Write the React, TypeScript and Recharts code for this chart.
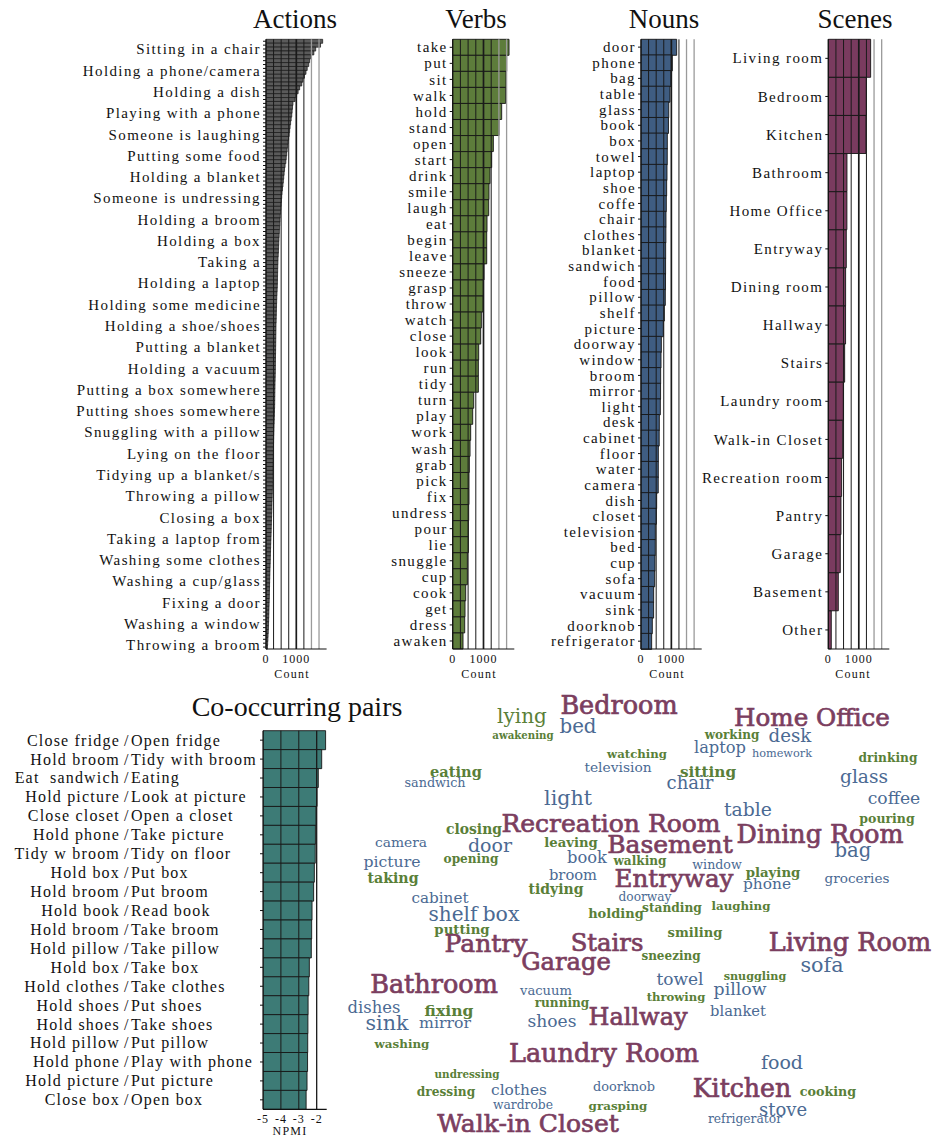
import React from 'react';
import { BarChart, Bar, XAxis, YAxis, ReferenceLine, ScatterChart, Scatter } from 'recharts';

const SERIF = '"Liberation Serif", "Times New Roman", serif';
const CLOUD = '"DejaVu Serif", serif';

// ---------- Actions (157 classes, every ~5th labelled) ----------
const actionCounts = [
  1870, 1800, 1640, 1580, 1480, 1440, 1410, 1360, 1320, 1270,
  1220, 1180, 1110, 1060, 1010, 960, 890, 875, 862, 850,
  830, 812, 795, 780, 765, 745, 728, 712, 698, 683,
  668, 655, 630, 612, 598, 585, 572, 560, 545, 530,
  518, 508, 498, 488, 480, 470, 462, 455, 448, 441,
  434, 427, 421, 416, 410, 404, 397, 393, 389, 385,
  382, 379, 376, 373, 368, 362, 356, 352, 348, 344,
  341, 338, 335, 330, 328, 326, 324, 322, 320, 318,
  316, 314, 312, 310, 309, 307, 304, 301, 298, 296,
  293, 291, 289, 287, 285, 281, 277, 273, 269, 265,
  261, 257, 253, 250, 247, 245, 242, 240, 237, 234,
  232, 230, 226, 222, 218, 214, 210, 206, 202, 198,
  195, 191, 187, 183, 178, 175, 172, 168, 164, 158,
  154, 150, 146, 143, 140, 136, 132, 128, 125, 121,
  118, 115, 112, 110, 106, 102, 99, 95, 92, 88,
  84, 80, 75, 68, 62, 55, 48,
];
const actionLabels = [
  'Sitting in a chair', 'Holding a phone/camera', 'Holding a dish', 'Playing with a phone',
  'Someone is laughing', 'Putting some food', 'Holding a blanket', 'Someone is undressing',
  'Holding a broom', 'Holding a box', 'Taking a', 'Holding a laptop', 'Holding some medicine',
  'Holding a shoe/shoes', 'Putting a blanket', 'Holding a vacuum', 'Putting a box somewhere',
  'Putting shoes somewhere', 'Snuggling with a pillow', 'Lying on the floor',
  'Tidying up a blanket/s', 'Throwing a pillow', 'Closing a box', 'Taking a laptop from',
  'Washing some clothes', 'Washing a cup/glass', 'Fixing a door', 'Washing a window',
  'Throwing a broom',
];

// ---------- Verbs ----------
const verbNames = ['take', 'put', 'sit', 'walk', 'hold', 'stand', 'open', 'start', 'drink', 'smile',
  'laugh', 'eat', 'begin', 'leave', 'sneeze', 'grasp', 'throw', 'watch', 'close', 'look', 'run',
  'tidy', 'turn', 'play', 'work', 'wash', 'grab', 'pick', 'fix', 'undress', 'pour', 'lie',
  'snuggle', 'cup', 'cook', 'get', 'dress', 'awaken'];
const verbCounts = [1829, 1753, 1731, 1720, 1590, 1504, 1320, 1266, 1212, 1179,
  1169, 1114, 1104, 1104, 1017, 995, 990, 930, 909, 844, 833,
  833, 682, 649, 584, 563, 541, 530, 530, 519, 509, 509,
  476, 476, 422, 400, 390, 335];

// ---------- Nouns ----------
const nounNames = ['door', 'phone', 'bag', 'table', 'glass', 'book', 'box', 'towel', 'laptop', 'shoe',
  'coffe', 'chair', 'clothes', 'blanket', 'sandwich', 'food', 'pillow', 'shelf', 'picture',
  'doorway', 'window', 'broom', 'mirror', 'light', 'desk', 'cabinet', 'floor', 'water', 'camera',
  'dish', 'closet', 'television', 'bed', 'cup', 'sofa', 'vacuum', 'sink', 'doorknob', 'refrigerator'];
const nounCounts = [1175, 1032, 988, 955, 915, 905, 867, 865, 856, 845,
  834, 823, 820, 812, 810, 808, 801, 769, 736,
  670, 659, 648, 645, 637, 604, 600, 571, 570, 568,
  516, 505, 472, 470, 461, 450, 417, 415, 373, 351];

// ---------- Scenes ----------
const sceneNames = ['Living room', 'Bedroom', 'Kitchen', 'Bathroom', 'Home Office', 'Entryway',
  'Dining room', 'Hallway', 'Stairs', 'Laundry room', 'Walk-in Closet', 'Recreation room',
  'Pantry', 'Garage', 'Basement', 'Other'];
const sceneCounts = [1388, 1246, 1235, 612, 610, 590, 568, 566, 536, 492, 470, 437, 415, 393, 328, 98];

// ---------- Co-occurring pairs ----------
const pairLabels = ['Close fridge/Open fridge', 'Hold broom/Tidy with broom', 'Eat  sandwich/Eating',
  'Hold picture/Look at picture', 'Close closet/Open a closet', 'Hold phone/Take picture',
  'Tidy w broom/Tidy on floor', 'Hold box/Put box', 'Hold broom/Put broom', 'Hold book/Read book',
  'Hold broom/Take broom', 'Hold pillow/Take pillow', 'Hold box/Take box',
  'Hold clothes/Take clothes', 'Hold shoes/Put shoes', 'Hold shoes/Take shoes',
  'Hold pillow/Put pillow', 'Hold phone/Play with phone', 'Hold picture/Put picture',
  'Close box/Open box'];
const pairNpmi = [-1.5, -1.72, -1.91, -1.98, -2.04, -2.07, -2.08, -2.13, -2.17, -2.26,
  -2.28, -2.3, -2.41, -2.44, -2.48, -2.49, -2.5, -2.51, -2.54, -2.59];
const npmiTicks = [-5, -4, -3, -2];

// ---------- Word cloud: [word, x, y(baseline), weight] in page units ----------
const sceneWords: [string, number, number, number][] = [
  ['Bedroom', 619, 714, 25.5], ['Home Office', 812, 726, 24.6], ['Recreation Room', 611, 832, 25],
  ['Basement', 670, 853, 25], ['Entryway', 674, 887, 24.6], ['Dining Room', 820, 843, 25.3],
  ['Pantry', 486, 952, 25], ['Stairs', 607, 951, 24.3], ['Living Room', 850, 951, 25.5],
  ['Garage', 566, 970, 24.2], ['Bathroom', 434, 993, 25.5], ['Hallway', 638, 1025, 24],
  ['Laundry Room', 604, 1062, 25.5], ['Kitchen', 742, 1097, 25.2], ['Walk-in Closet', 528, 1132, 25],
];
const nounWords: [string, number, number, number][] = [
  ['bed', 578, 733, 19.8], ['television', 618, 772, 13.8], ['sandwich', 435, 787, 12.8],
  ['light', 568, 805, 20.6], ['door', 490, 852, 19], ['camera', 401, 847, 13.8],
  ['picture', 392, 867, 15.7], ['book', 587, 863, 16.3], ['broom', 573, 880, 14.7],
  ['cabinet', 440, 903, 15.2], ['doorway', 645, 901, 12.2], ['shelf', 453, 921, 20],
  ['box', 501, 921, 20.5], ['sofa', 822, 972, 20.7], ['towel', 680, 985, 17],
  ['vacuum', 546, 995, 13.1], ['pillow', 740, 995, 17.3], ['dishes', 374, 1013, 16.4],
  ['blanket', 738, 1016, 14.7], ['sink', 387, 1030, 20.6], ['mirror', 445, 1028, 15.7],
  ['shoes', 552, 1027, 17.1], ['food', 782, 1069, 19], ['clothes', 519, 1095, 15.4],
  ['doorknob', 624, 1091, 12.9], ['wardrobe', 523, 1109, 12.3], ['stove', 783, 1116, 18],
  ['refrigerator', 745, 1123, 12.3], ['desk', 790, 742, 18.2], ['laptop', 720, 753, 16.3],
  ['homework', 782, 757, 11.3], ['chair', 690, 789, 18], ['glass', 864, 783, 18.6],
  ['coffee', 894, 804, 17.2], ['table', 748, 816, 18.8], ['bag', 853, 857, 19.7],
  ['window', 717, 869, 12.6], ['phone', 767, 889, 15.4], ['groceries', 857, 883, 13.6],
];
const verbWords: [string, number, number, number][] = [
  ['lying', 522, 723, 20], ['awakening', 523, 739, 10.2], ['watching', 637, 758, 11.7],
  ['eating', 456, 777, 14.6], ['closing', 474, 834, 13.9], ['leaving', 571, 847, 13.2],
  ['opening', 471, 863, 12.1], ['walking', 640, 865, 12.1], ['taking', 393, 883, 14.2],
  ['tidying', 556, 894, 14], ['holding', 616, 918, 13], ['standing', 672, 912, 12.2],
  ['laughing', 741, 910, 11.8], ['putting', 462, 934, 13.3], ['smiling', 695, 937, 13.1],
  ['sneezing', 671, 960, 12], ['snuggling', 755, 980, 11.2], ['throwing', 676, 1001, 11.6],
  ['running', 562, 1007, 12.1], ['fixing', 449, 1016, 15.6], ['washing', 402, 1048, 11.9],
  ['undressing', 467, 1078, 10.4], ['cooking', 828, 1096, 12.7], ['dressing', 446, 1096, 12.2],
  ['grasping', 618, 1110, 11.9], ['working', 732, 739, 12], ['drinking', 888, 762, 12.2],
  ['sitting', 708, 777, 15.3], ['pouring', 887, 823, 12.5], ['playing', 773, 877, 13.3],
];

// ---------- derived tables ----------
const ACTION_BAR_H = 609.7 / actionCounts.length;
const actionRows = actionCounts.map((count, i) => ({ name: `a${i}`, count }));
const actionLabelById: Record<string, string> = {};
const actionDyById: Record<string, number> = {};
actionLabels.forEach((l, i) => {
  const exact = 2.07 + 5.48 * i;
  const k = Math.round(exact);
  actionLabelById[`a${k}`] = l;
  actionDyById[`a${k}`] = (exact - k) * ACTION_BAR_H;
});
const verbRows = verbNames.map((name, i) => ({ name, count: verbCounts[i] }));
const nounRows = nounNames.map((name, i) => ({ name, count: nounCounts[i] }));
const sceneRows = sceneNames.map((name, i) => ({ name, count: sceneCounts[i] }));
const pairRows = pairLabels.map((name, i) => ({ name, npmi: pairNpmi[i] }));

const COLORS = {
  scene: '#7b3e5f',
  noun: '#4b6a93',
  verb: '#5a7f38',
};
const cloudWords = [
  ...sceneWords.map(([word, x, y, size]) => ({ word, x, y, size, kind: 'scene' })),
  ...nounWords.map(([word, x, y, size]) => ({ word, x, y, size, kind: 'noun' })),
  ...verbWords.map(([word, x, y, size]) => ({ word, x, y, size, kind: 'verb' })),
];

const COUNT_GRID = [250, 500, 750, 1000, 1250, 1500, 1750];
const gridStyle = (v: number) =>
  v === 1000
    ? { stroke: '#1a1a1a', strokeWidth: 1.7 }
    : v >= 1500
      ? { stroke: '#9a9a9a', strokeWidth: 1.3 }
      : { stroke: '#1a1a1a', strokeWidth: 1 };

const XTick = (props: any) => {
  const { x, y, payload } = props;
  return (
    <text x={x} y={y + 14} textAnchor="middle" fontFamily={SERIF} fontSize={12}
      letterSpacing={1} fill="#111">
      {payload.value}
    </text>
  );
};

const makeCatTick = (labelFor: (v: string) => string, dyFor?: (v: string) => number) => (props: any) => {
  const { x, y, payload } = props;
  const v = String(payload.value);
  const t = labelFor(v);
  if (!t) return <g />;
  const off = dyFor ? dyFor(v) : 0;
  return (
    <text x={x} y={y + off} dy="0.34em" textAnchor="end" fontFamily={SERIF} fontSize={15}
      letterSpacing={1.4} fill="#111">
      {t}
    </text>
  );
};

const PairTick = (props: any) => {
  const { x, y, payload } = props;
  const [a, b] = String(payload.value).split('/');
  return (
    <g fontFamily={SERIF} fontSize={16} letterSpacing={1.2} fill="#111">
      <text x={x - 138} y={y} dy="0.34em" textAnchor="end" style={{ whiteSpace: 'pre' }}>{a}</text>
      <text x={x - 134} y={y} dy="0.34em" textAnchor="start">/</text>
      <text x={x - 127} y={y} dy="0.34em" textAnchor="start">{b}</text>
    </g>
  );
};

type PanelProps = {
  data: { name: string; count: number }[];
  fill: string;
  left: number;
  width: number;
  yWidth: number;
  right: number;
  labelFor: (v: string) => string;
  dyFor?: (v: string) => number;
  strokeWidth?: number;
};

function CountPanel({ data, fill, left, width, yWidth, right, labelFor, dyFor, strokeWidth = 0.9 }: PanelProps) {
  return (
    <div style={{ position: 'absolute', left, top: 0 }}>
      <BarChart width={width} height={690} data={data} layout="vertical"
        margin={{ top: 39.3, right, bottom: 11, left: 0 }} barCategoryGap={0} barGap={0}>
        <XAxis type="number" domain={[0, 2000]} ticks={[0, 1000]} height={30} interval={0}
          tickSize={0} tickMargin={0} tickLine={false} tick={XTick}
          axisLine={{ stroke: '#111', strokeWidth: 1.2 }} />
        <YAxis type="category" dataKey="name" width={yWidth} interval={0}
          tickSize={3} tickMargin={2} tickLine={{ stroke: '#111' }}
          axisLine={{ stroke: '#111', strokeWidth: 1.2 }} tick={makeCatTick(labelFor, dyFor)} />
        <Bar dataKey="count" fill={fill} stroke="#151515" strokeWidth={strokeWidth}
          isAnimationActive={false} />
        {COUNT_GRID.map((v) => (
          <ReferenceLine key={v} x={v} {...gridStyle(v)} />
        ))}
      </BarChart>
    </div>
  );
}

const WordShape = (props: any) => {
  const { cx, cy, payload } = props;
  const kind = payload.kind as 'scene' | 'noun' | 'verb';
  const bold = kind === 'verb' && payload.word !== 'lying';
  const thick = kind === 'scene';
  return (
    <text x={cx} y={cy} textAnchor="middle" fontFamily={CLOUD} fontSize={payload.size}
      fontWeight={bold ? 700 : 400} fill={COLORS[kind]}
      stroke={thick ? COLORS[kind] : 'none'} strokeWidth={thick ? 0.7 : 0}>
      {payload.word}
    </text>
  );
};

const titles = [
  { t: 'Actions', x: 295, y: 28, s: 27 },
  { t: 'Verbs', x: 476, y: 28, s: 27 },
  { t: 'Nouns', x: 664, y: 28, s: 27 },
  { t: 'Scenes', x: 855, y: 28, s: 27 },
  { t: 'Co-occurring pairs', x: 297, y: 716, s: 28 },
];
const axisTitles = [
  { t: 'Count', x: 292, y: 678 },
  { t: 'Count', x: 479, y: 678 },
  { t: 'Count', x: 667, y: 678 },
  { t: 'Count', x: 853, y: 678 },
  { t: 'NPMI', x: 290, y: 1135 },
];

export default function App() {
  return (
    <div style={{ position: 'absolute', left: 0, top: 0, width: 935, height: 1137, overflow: 'hidden', background: '#fff' }}>
      <CountPanel data={actionRows} fill="#5a5a5a" left={0} width={340} yWidth={266} right={13.4}
        labelFor={(v) => actionLabelById[v] || ''} dyFor={(v) => actionDyById[v] || 0}
        strokeWidth={0.7} />
      <CountPanel data={verbRows} fill="#5d7c3b" left={340} width={190} yWidth={112.7} right={15.7}
        labelFor={(v) => v} />
      <CountPanel data={nounRows} fill="#3f5d82" left={530} width={185} yWidth={111} right={13.3}
        labelFor={(v) => v} />
      <CountPanel data={sceneRows} fill="#7a3b5f" left={690} width={245} yWidth={138.3} right={45.7}
        labelFor={(v) => v} />

      <div style={{ position: 'absolute', left: 0, top: 690 }}>
        <BarChart width={340} height={447} data={pairRows} layout="vertical"
          margin={{ top: 40.7, right: 13.3, bottom: 0, left: 0 }} barCategoryGap={0}>
          <XAxis type="number" domain={[-5, -1.44]} ticks={npmiTicks} interval={0} height={27.7}
            tickSize={0} tickMargin={0} tickLine={false} tick={XTick}
            axisLine={{ stroke: '#111', strokeWidth: 1.2 }} allowDataOverflow />
          <YAxis type="category" dataKey="name" width={263} interval={0}
            tickSize={3} tickMargin={2} tickLine={{ stroke: '#111' }}
            axisLine={{ stroke: '#111', strokeWidth: 1.2 }} tick={PairTick} />
          <Bar dataKey={(d: any) => [-5, d.npmi]} fill="#3d7b76" stroke="#151515" strokeWidth={0.9}
            isAnimationActive={false} />
          {[-4, -3, -2].map((v) => (
            <ReferenceLine key={v} x={v} stroke="#1a1a1a" strokeWidth={v === -2 ? 1.3 : 1} />
          ))}
        </BarChart>
      </div>

      <div style={{ position: 'absolute', left: 340, top: 690 }}>
        <ScatterChart width={595} height={447} margin={{ top: 0, right: 0, bottom: 0, left: 0 }}>
          <XAxis type="number" dataKey="x" domain={[340, 935]} hide />
          <YAxis type="number" dataKey="y" domain={[690, 1137]} reversed hide />
          <Scatter data={cloudWords} shape={WordShape} isAnimationActive={false} />
        </ScatterChart>
      </div>

      <svg width={935} height={1137} style={{ position: 'absolute', left: 0, top: 0, pointerEvents: 'none' }}>
        {titles.map((d) => (
          <text key={d.t} x={d.x} y={d.y} textAnchor="middle" fontFamily={SERIF} fontSize={d.s} fill="#111">
            {d.t}
          </text>
        ))}
        {axisTitles.map((d, i) => (
          <text key={i} x={d.x} y={d.y} textAnchor="middle" fontFamily={SERIF} fontSize={12}
            letterSpacing={1.2} fill="#111">
            {d.t}
          </text>
        ))}
      </svg>
    </div>
  );
}
